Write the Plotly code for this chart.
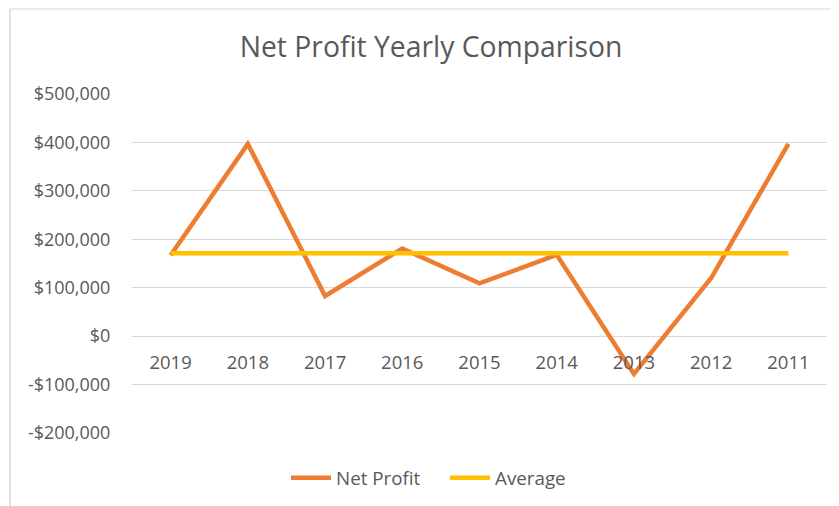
import plotly.graph_objects as go

years = ["2019", "2018", "2017", "2016", "2015", "2014", "2013", "2012", "2011"]
net_profit = [167000, 397000, 83000, 181000, 109000, 168000, -78000, 120000, 397000]
average = [171000] * 9
y_tickvals = [-200000, -100000, 0, 100000, 200000, 300000, 400000, 500000]
y_ticktext = ["-$200,000", "-$100,000", "$0", "$100,000", "$200,000", "$300,000", "$400,000", "$500,000"]

FONT = "Open Sans"
GREY = "#595959"
W, H = 839, 506
L, R, T, B = 124, 20, 86, 81
PW, PH = W - L - R, H - T - B

fig = go.Figure()
fig.add_trace(go.Scatter(x=years, y=net_profit, mode="lines", name="Net Profit",
                         line=dict(color="#ED7D31", width=4.5)))
fig.add_trace(go.Scatter(x=years, y=average, mode="lines", name="Average",
                         line=dict(color="#FFC000", width=4.5)))

fig.update_layout(
    width=W, height=H,
    margin=dict(l=L, r=R, t=T, b=B, autoexpand=False),
    paper_bgcolor="white", plot_bgcolor="white",
    font=dict(family=FONT, color=GREY, size=18),
    title=dict(text="Net Profit Yearly Comparison", x=423/W, xref="container", xanchor="center",
               y=1-39/H, yref="container", yanchor="middle",
               font=dict(size=28.3, color=GREY, family=FONT)),
    showlegend=True,
    legend=dict(orientation="h", x=437/W, xref="container", xanchor="center",
                y=1-470/H, yref="container", yanchor="middle",
                font=dict(size=18.8, color=GREY), itemwidth=40,
                entrywidth=104, entrywidthmode="pixels"),
    xaxis=dict(type="category", categoryorder="array", categoryarray=years,
               anchor="free", position=200000/700000,
               showgrid=False, showline=False, zeroline=False,
               ticks="outside", ticklen=10, tickcolor="rgba(0,0,0,0)",
               tickfont=dict(size=18.5, color=GREY), range=[-0.5, 8.5]),
    yaxis=dict(range=[-200000, 500000], tickvals=y_tickvals, ticktext=y_ticktext,
               showgrid=True, gridcolor="#D9D9D9", gridwidth=1,
               zeroline=True, zerolinecolor="#D9D9D9", zerolinewidth=1,
               showline=False, ticks="outside", ticklen=17, tickcolor="rgba(0,0,0,0)",
               tickfont=dict(size=18, color=GREY)),
    shapes=[
        dict(type="line", xref="paper", yref="paper", x0=(2-L)/PW, x1=(2-L)/PW,
             y0=(PH+T-1)/PH, y1=-1, line=dict(color="#D9D9D9", width=1.5)),
        dict(type="line", xref="paper", yref="paper", x0=(2-L)/PW, x1=2,
             y0=(PH+T-1)/PH, y1=(PH+T-1)/PH, line=dict(color="#E3E3E3", width=1.5)),
    ],
)

fig.write_html("out.html")
